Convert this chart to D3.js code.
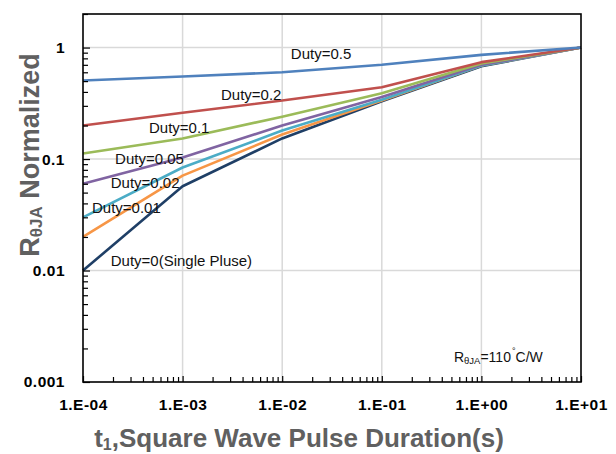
<!DOCTYPE html>
<html>
<head>
<meta charset="utf-8">
<script src="https://cdn.jsdelivr.net/npm/d3@7"></script>
<style>
  body { margin: 0; background: #ffffff; }
  svg { display: block; }
</style>
</head>
<body>
<svg id="chart" width="616" height="454"></svg>
<script>
// Pulse durations (s) at which each curve is sampled
const pulseTimes = [1e-4, 1e-3, 1e-2, 1e-1, 1, 10];

// Normalized thermal resistance per duty cycle
const duty05 = [0.506, 0.55, 0.60, 0.70, 0.86, 1];
const duty02 = [0.20, 0.26, 0.335, 0.44, 0.74, 1];
const duty01 = [0.112, 0.153, 0.24, 0.39, 0.72, 1];
const duty005 = [0.060, 0.103, 0.20, 0.36, 0.70, 1];
const duty002 = [0.030, 0.084, 0.18, 0.34, 0.69, 1];
const duty001 = [0.020, 0.071, 0.166, 0.335, 0.69, 1];
const duty0 = [0.010, 0.057, 0.153, 0.33, 0.68, 1];

const seriesLabels = ["Duty=0(Single Pluse)", "Duty=0.01", "Duty=0.02", "Duty=0.05", "Duty=0.1", "Duty=0.2", "Duty=0.5"];
const seriesValues = [duty0, duty001, duty002, duty005, duty01, duty02, duty05];
const seriesColors = ["#1f3f66", "#f79646", "#4bacc6", "#8064a2", "#9bbb59", "#c0504d", "#4f81bd"];
// Where each curve's label sits, in data units (pulse time, normalized R)
const labelAnchors = [[1.9e-4, 0.0122], [1.23e-4, 0.0364], [1.9e-4, 0.062], [2.1e-4, 0.102], [4.6e-4, 0.19], [2.43e-3, 0.376], [0.0122, 0.89]];

const xTickValues = [1e-4, 1e-3, 1e-2, 1e-1, 1, 10];
const xTickLabels = ["1.E-04", "1.E-03", "1.E-02", "1.E-01", "1.E+00", "1.E+01"];
const yTickValues = [0.001, 0.01, 0.1, 1];
const yTickLabels = ["0.001", "0.01", "0.1", "1"];

const svg = d3.select("#chart");
const plotLeft = 83, plotRight = 581, plotTop = 14, plotBottom = 382;

const x = d3.scaleLog().domain([1e-4, 10]).range([plotLeft, plotRight]);
const y = d3.scaleLog().domain([0.001, 2]).range([plotBottom, plotTop]);

// Minor tick positions (2..9 within each decade)
const xMinor = [];
for (let e = -4; e < 1; e++) for (let m = 2; m <= 9; m++) xMinor.push(m * Math.pow(10, e));
const yMinor = [];
for (let e = -3; e <= 0; e++) for (let m = 2; m <= 9; m++) {
  const v = m * Math.pow(10, e);
  if (v <= 2.0001) yMinor.push(v);
}

// Gridlines
const grid = svg.append("g").attr("stroke", "#d9d9d9").attr("stroke-width", 1.5);
grid.selectAll("line.vx").data(xTickValues.slice(1, -1)).join("line")
  .attr("x1", d => x(d)).attr("x2", d => x(d)).attr("y1", plotTop).attr("y2", plotBottom);
grid.selectAll("line.hy").data(yTickValues.slice(1)).join("line")
  .attr("x1", plotLeft).attr("x2", plotRight).attr("y1", d => y(d)).attr("y2", d => y(d));

// Curves
const line = d3.line().x(d => x(d[0])).y(d => y(d[1]));
svg.append("g").selectAll("path").data(seriesValues).join("path")
  .attr("d", vals => line(pulseTimes.map((t, i) => [t, vals[i]])))
  .attr("fill", "none")
  .attr("stroke", (d, i) => seriesColors[i])
  .attr("stroke-width", 2.6)
  .attr("stroke-linejoin", "round");

// Axes with inward ticks
const xAxis = svg.append("g").attr("transform", `translate(0,${plotBottom})`)
  .call(d3.axisBottom(x).tickValues(xMinor).tickSize(-5).tickFormat(""));
const xAxisMajor = svg.append("g").attr("transform", `translate(0,${plotBottom})`)
  .call(d3.axisBottom(x).tickValues(xTickValues).tickSize(-6).tickPadding(17)
    .tickFormat((d, i) => xTickLabels[i]));
const yAxis = svg.append("g").attr("transform", `translate(${plotLeft},0)`)
  .call(d3.axisLeft(y).tickValues(yMinor).tickSize(-5).tickFormat(""));
const yAxisMajor = svg.append("g").attr("transform", `translate(${plotLeft},0)`)
  .call(d3.axisLeft(y).tickValues(yTickValues).tickSize(-7).tickPadding(18)
    .tickFormat((d, i) => yTickLabels[i]));

[xAxis, xAxisMajor, yAxis, yAxisMajor].forEach(g => {
  g.select(".domain").remove();
  g.selectAll(".tick line").attr("stroke", "#000").attr("stroke-width", 1.2);
  g.selectAll("text")
    .attr("font-family", "'Liberation Sans', Arial, sans-serif")
    .attr("font-weight", "bold")
    .attr("font-size", 15.5)
    .attr("letter-spacing", 0.5)
    .attr("fill", "#000");
});

// Plot frame
svg.append("rect")
  .attr("x", plotLeft).attr("y", plotTop)
  .attr("width", plotRight - plotLeft).attr("height", plotBottom - plotTop)
  .attr("fill", "none").attr("stroke", "#000").attr("stroke-width", 1.6);

// Curve labels
svg.append("g").selectAll("text").data(seriesLabels).join("text")
  .attr("x", (d, i) => x(labelAnchors[i][0]))
  .attr("y", (d, i) => y(labelAnchors[i][1]))
  .attr("dominant-baseline", "central")
  .attr("font-family", "'Liberation Sans', Arial, sans-serif")
  .attr("font-size", 15)
  .attr("fill", "#111")
  .text(d => d);

// Thermal resistance note
const note = svg.append("text")
  .attr("x", x(0.53)).attr("y", y(0.00168))
  .attr("dominant-baseline", "central")
  .attr("font-family", "'Liberation Sans', Arial, sans-serif")
  .attr("font-size", 14)
  .attr("fill", "#111");
note.append("tspan").text("R");
note.append("tspan").attr("font-size", 9.5).attr("dy", 3).text("θJA");
note.append("tspan").attr("dy", -3).text("=110");
note.append("tspan").attr("font-size", 9).attr("dy", -6).attr("dx", 1).text("°");
note.append("tspan").attr("dy", 6).text("C/W");

// Axis titles
const xTitle = svg.append("text")
  .attr("x", 299).attr("y", 438)
  .attr("text-anchor", "middle").attr("dominant-baseline", "central")
  .attr("font-family", "'Liberation Sans', Arial, sans-serif")
  .attr("font-weight", "bold").attr("font-size", 26).attr("fill", "#606060");
xTitle.append("tspan").text("t");
xTitle.append("tspan").attr("font-size", 16).attr("dy", 6).text("1");
xTitle.append("tspan").attr("dy", -6).text(",Square Wave Pulse Duration(s)");

const yTitle = svg.append("text")
  .attr("transform", "translate(30,155) rotate(-90)")
  .attr("text-anchor", "middle").attr("dominant-baseline", "central")
  .attr("font-family", "'Liberation Sans', Arial, sans-serif")
  .attr("font-weight", "bold").attr("font-size", 27).attr("fill", "#606060");
yTitle.append("tspan").text("R");
yTitle.append("tspan").attr("font-size", 17).attr("dy", 6).text("θJA");
yTitle.append("tspan").attr("dy", -6).text(" Normalized");
</script>
</body>
</html>
